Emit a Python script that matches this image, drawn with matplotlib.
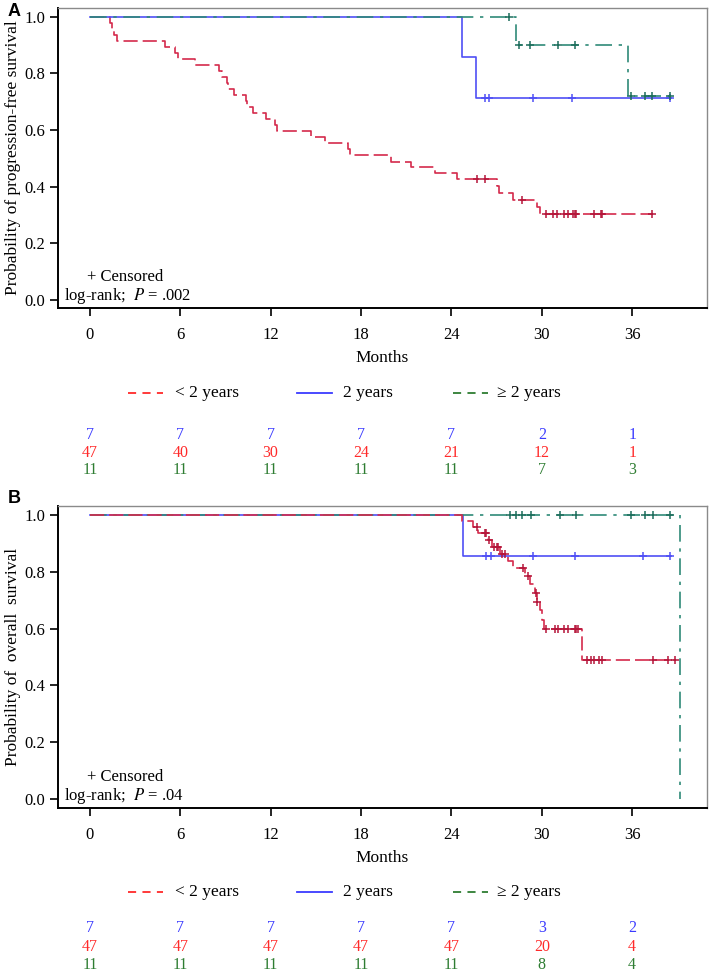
import matplotlib
matplotlib.use('Agg')
import matplotlib.pyplot as plt
from matplotlib.lines import Line2D
import matplotlib.transforms as mtrans
import numpy as np

plt.rcParams['font.family'] = ['Liberation Serif', 'DejaVu Serif']
plt.rcParams['mathtext.fontset'] = 'stix'

# ---------------- data ----------------
groups = ['< 2 years', '2 years', '\u2265 2 years']
month_ticks = [0, 6, 12, 18, 24, 30, 36]
prob_ticks = [0.0, 0.2, 0.4, 0.6, 0.8, 1.0]

# Panel A: progression-free survival
pfs_lt2_t = [1.33, 1.48, 1.62, 1.77, 5.0, 5.64, 5.86, 6.97, 8.59, 8.8, 9.07, 9.18, 9.58,
             10.35, 10.4, 10.8, 11.7, 12.3, 12.4, 14.7, 15.6, 17.15, 17.3, 20.0, 21.3,
             22.9, 24.35, 27.05, 27.15, 28.1, 29.66, 29.9]
pfs_lt2_s = [0.979, 0.957, 0.936, 0.915, 0.894, 0.872, 0.851, 0.830, 0.809, 0.787, 0.766,
             0.745, 0.723, 0.702, 0.681, 0.660, 0.638, 0.617, 0.596, 0.574, 0.553, 0.532,
             0.511, 0.489, 0.468, 0.447, 0.426, 0.402, 0.378, 0.355, 0.329, 0.304]
pfs_lt2_cens = [25.7, 26.2, 28.7, 30.3, 30.77, 31.0, 31.5, 31.76, 32.1, 32.2, 32.3,
                33.5, 33.9, 34.0, 37.3]
pfs_lt2_end = 37.4

pfs_2_t = [24.7, 25.6]
pfs_2_s = [0.857, 0.714]
pfs_2_cens = [26.2, 26.5, 29.4, 32.0, 38.5]
pfs_2_end = 38.6

pfs_ge2_t = [28.3, 35.75]
pfs_ge2_s = [0.90, 0.72]
pfs_ge2_cens = [27.85, 28.5, 29.2, 31.1, 32.2, 35.95, 36.85, 37.3, 38.5]
pfs_ge2_end = 38.6

# Panel B: overall survival
os_lt2_t = [24.72, 25.45, 25.74, 26.45, 26.67, 27.2, 27.78, 28.1, 28.88, 29.2, 29.55,
            29.65, 29.9, 30.0, 30.17, 32.7]
os_lt2_s = [0.979, 0.957, 0.936, 0.912, 0.888, 0.862, 0.838, 0.812, 0.786, 0.756, 0.724,
            0.695, 0.665, 0.632, 0.600, 0.491]
os_lt2_cens = [25.67, 26.2, 26.3, 26.5, 26.85, 27.0, 27.1, 27.33, 27.56, 28.77, 29.1,
               29.6, 29.7, 30.3, 30.9, 31.1, 31.5, 31.76, 32.2, 32.3, 32.4, 33.0, 33.3,
               33.5, 33.77, 33.97, 37.4, 38.4, 38.85]
os_lt2_end = 38.9

os_2_t = [24.75]
os_2_s = [0.857]
os_2_cens = [26.3, 26.6, 29.4, 32.2, 36.7, 38.5]
os_2_end = 38.6

os_ge2_t = [39.2]
os_ge2_s = [0.0]
os_ge2_cens = [27.9, 28.3, 28.7, 29.3, 31.2, 32.3, 35.95, 36.85, 37.4, 38.5]
os_ge2_end = 39.2

# numbers at risk
risk_pfs_2 = [7, 7, 7, 7, 7, 2, 1]
risk_pfs_lt2 = [47, 40, 30, 24, 21, 12, 1]
risk_pfs_ge2 = [11, 11, 11, 11, 11, 7, 3]
risk_os_2 = [7, 7, 7, 7, 7, 3, 2]
risk_os_lt2 = [47, 47, 47, 47, 47, 20, 4]
risk_os_ge2 = [11, 11, 11, 11, 11, 8, 4]

# ---------------- styles ----------------
C_RED = '#d42a4c'
C_RED_M = '#b5163a'
C_BLUE = '#4f4ff5'
C_GREEN = '#2f8a78'
C_GREEN_M = '#1d6e5c'
T_BLUE = '#3a3aff'
T_RED = '#ff2a2a'
T_GREEN = '#2e7d32'

W, H = 709, 972
fig = plt.figure(figsize=(W / 100, H / 100), dpi=100)


def fx(px):
    return px / W


def fy(py):
    return 1 - py / H


def km_line(ax, t, s, end, cens, color, mcolor, **kw):
    tt = [0.0] + list(t) + [end]
    ss = [1.0] + list(s) + [s[-1]]
    ax.step(tt, ss, where='post', color=color, lw=1.2, **kw)
    tarr = np.array([0.0] + list(t))
    sarr = np.array([1.0] + list(s))
    cy = [sarr[np.searchsorted(tarr, c, side='right') - 1] for c in cens]
    ax.plot(cens, cy, ls='none', marker='+', ms=6, mew=1.1, color=mcolor, zorder=5)


def panel(top_px, bot_px, ylim, ylabel, curves, pval, risks, legend_y, risk_ys, letter, letter_y):
    hfrac = (bot_px - top_px) / H
    ax = fig.add_axes([fx(58), fy(bot_px), fx(707) - fx(58), hfrac])
    for args, kw in curves:
        km_line(ax, *args, **kw)
    ax.set_xlim(-2.12, 40.97)
    ax.set_ylim(*ylim)
    ax.set_xticks(month_ticks)
    ax.set_yticks(prob_ticks)
    ax.set_yticklabels(['%.1f' % v for v in prob_ticks])
    ax.tick_params(axis='both', labelsize=12, length=6, width=1.2, direction='out', color='black')
    ax.tick_params(axis='x', pad=8)
    ax.tick_params(axis='y', pad=3)
    for side in ['left', 'bottom']:
        ax.spines[side].set_color('black')
        ax.spines[side].set_linewidth(1.4)
    for side in ['top', 'right']:
        ax.spines[side].set_color('#8a8a8a')
        ax.spines[side].set_linewidth(1.0)
    ax.set_ylabel(ylabel, fontsize=12.5)
    ax.yaxis.set_label_coords((21 - 58) / 649, 0.5)
    ax.set_xlabel('Months', fontsize=12.5)
    ax.xaxis.set_label_coords(0.5, -(42 / H) / hfrac)
    # annotations
    ax.text(fx(87), fy(bot_px - 31), '+ Censored', transform=fig.transFigure, fontsize=12,
            va='center', ha='left')
    ax.text(fx(64), fy(bot_px - 12), 'log-rank;  $P$ = ' + pval, transform=fig.transFigure,
            fontsize=12, va='center', ha='left')
    # legend (drawn manually)
    leg = [(128, 163, 175, T_RED, (0, (4.5, 3.5)), groups[0]),
           (297, 332, 343, T_BLUE, '-', groups[1]),
           (453, 488, 497, T_GREEN, (0, (4.5, 3.5)), groups[2])]
    for x0, x1, xt, col, ls, lab in leg:
        fig.add_artist(Line2D([fx(x0), fx(x1)], [fy(legend_y), fy(legend_y)],
                              transform=fig.transFigure, color=col, lw=1.3, ls=ls))
        fig.text(fx(xt), fy(legend_y), lab, fontsize=12.5, va='center', ha='left')
    # risk table
    tr = mtrans.blended_transform_factory(ax.transData, fig.transFigure)
    for vals, col, ry in zip(risks, [T_BLUE, T_RED, T_GREEN], risk_ys):
        for m, v in zip(month_ticks, vals):
            ax.text(m, fy(ry), str(v), transform=tr, color=col, fontsize=11.5,
                    ha='center', va='center')
    fig.text(fx(8), fy(letter_y), letter, fontfamily='Liberation Sans', fontweight='bold',
             fontsize=13, va='center', ha='left')
    return ax


curves_a = [
    ((pfs_lt2_t, pfs_lt2_s, pfs_lt2_end, pfs_lt2_cens, C_RED, C_RED_M), dict(dashes=(8.5, 3))),
    ((pfs_2_t, pfs_2_s, pfs_2_end, pfs_2_cens, C_BLUE, C_BLUE), dict()),
    ((pfs_ge2_t, pfs_ge2_s, pfs_ge2_end, pfs_ge2_cens, C_GREEN, C_GREEN_M), dict(dashes=(10, 4, 2, 4))),
]
curves_b = [
    ((os_2_t, os_2_s, os_2_end, os_2_cens, C_BLUE, C_BLUE), dict()),
    ((os_ge2_t, os_ge2_s, os_ge2_end, os_ge2_cens, C_GREEN, C_GREEN_M), dict(dashes=(10, 4, 2, 4))),
    ((os_lt2_t, os_lt2_s, os_lt2_end, os_lt2_cens, C_RED, C_RED_M), dict(dashes=(8.5, 3))),
]

panel(8, 308, (-0.028, 1.031), 'Probability of progression-free survival', curves_a, '.002',
      [risk_pfs_2, risk_pfs_lt2, risk_pfs_ge2], 393, [435, 453, 470], 'A', 11)
panel(506, 808, (-0.032, 1.032), 'Probability of  overall  survival', curves_b, '.04',
      [risk_os_2, risk_os_lt2, risk_os_ge2], 892, [928, 947, 965], 'B', 498)

fig.savefig('out.png', dpi=100)
